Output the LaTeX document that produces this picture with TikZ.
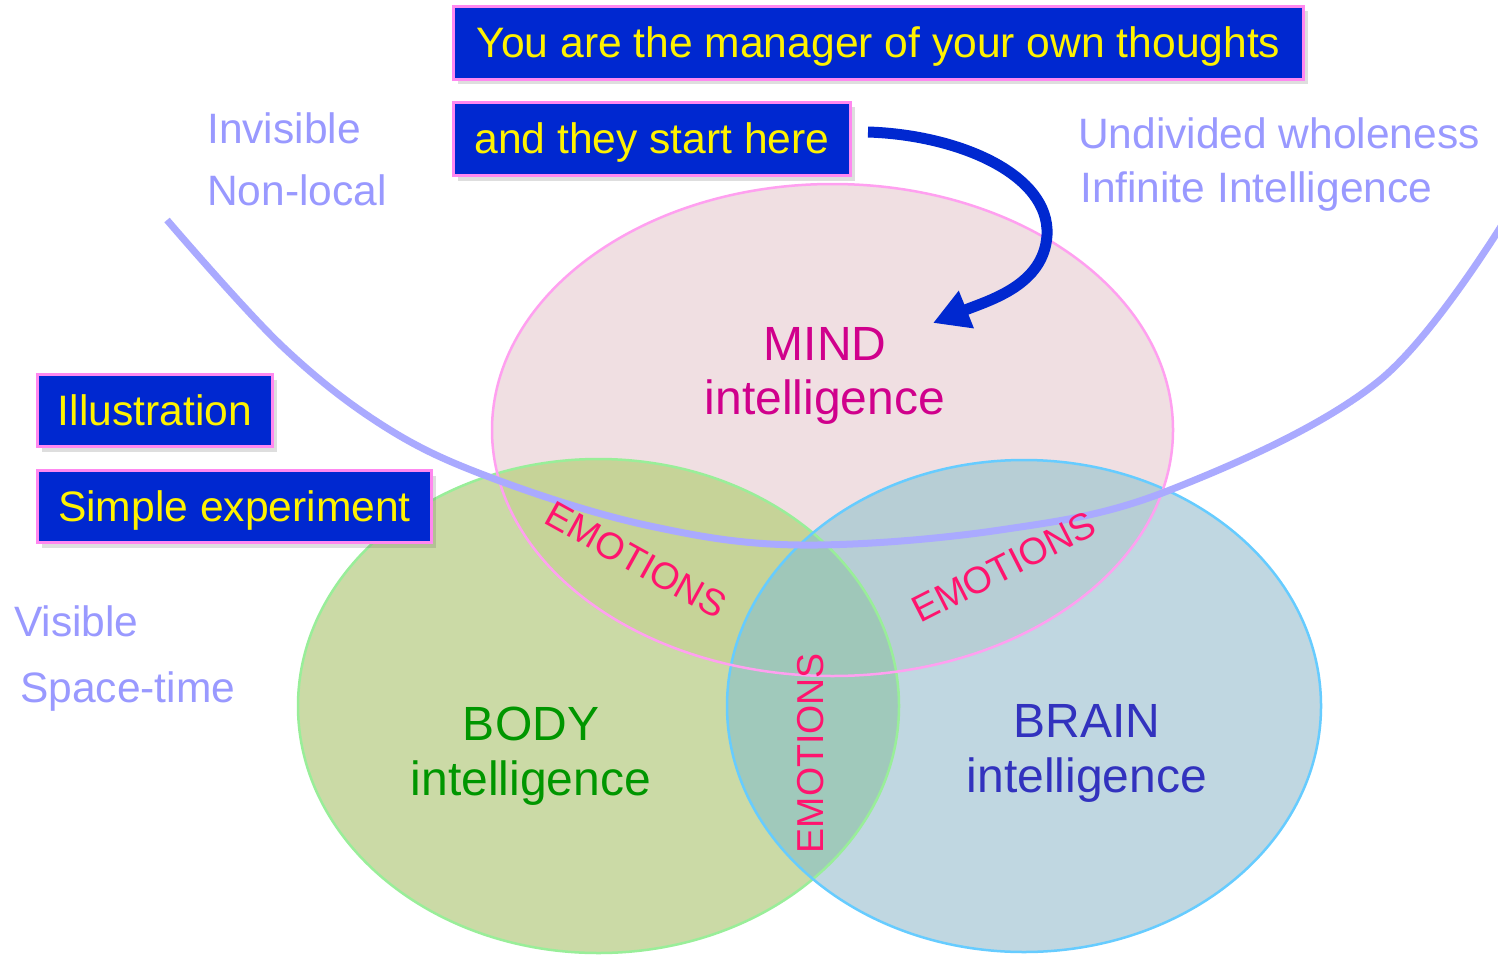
\documentclass[tikz,border=0pt]{standalone}
\usepackage{fontspec}
\setmainfont{Liberation Sans}
\usetikzlibrary{arrows.meta,shadows}
\definecolor{boxblue}{RGB}{0,40,208}
\definecolor{boxpink}{RGB}{255,136,240}
\definecolor{lav}{RGB}{153,153,255}
\definecolor{curvelav}{RGB}{170,170,255}
\definecolor{mindfill}{RGB}{240,223,226}
\definecolor{bodyfill}{RGB}{203,218,166}
\definecolor{brainfill}{RGB}{192,215,225}
\definecolor{mbfill}{RGB}{198,211,152}
\definecolor{mrfill}{RGB}{183,206,213}
\definecolor{brfill}{RGB}{160,201,187}
\definecolor{allfill}{RGB}{159,199,185}
\definecolor{mindline}{RGB}{255,160,240}
\definecolor{bodyline}{RGB}{153,238,153}
\definecolor{brainline}{RGB}{102,204,255}
\definecolor{mindtext}{RGB}{208,0,140}
\definecolor{bodytext}{RGB}{0,150,0}
\definecolor{braintext}{RGB}{50,50,190}
\definecolor{emotext}{RGB}{255,20,110}
\def\mindE{(832.5,430) ellipse [x radius=340.5pt, y radius=246pt]}
\def\bodyE{(598.5,706) ellipse [x radius=300.5pt, y radius=247pt]}
\def\brainE{(1024,706) ellipse [x radius=297pt, y radius=246pt]}
\begin{document}
\begin{tikzpicture}[x=1pt,y=-1pt,
  bluebox/.style={draw=boxpink, line width=3pt, fill=boxblue, text=yellow,
    font=\fontsize{42.6}{50}\selectfont, text height=34pt, text depth=5pt,
    inner sep=0pt, anchor=north west,
    drop shadow={shadow xshift=4pt, shadow yshift=-5pt, opacity=0.18, fill=black!70}},
  lavtext/.style={text=lav, font=\fontsize{42.5}{50}\selectfont, anchor=base west, inner sep=0pt},
  vlabel/.style={font=\fontsize{48}{56}\selectfont, anchor=base, inner sep=0pt},
  emo/.style={text=emotext, font=\fontsize{37.5}{44}\selectfont, inner sep=0pt},
  arrowline/.style={draw=boxblue, line width=11pt, -{Triangle[length=36pt,width=38pt]}},
  bigcurve/.style={draw=curvelav, line width=7pt}
]
\useasboundingbox[fill=white] (0,0) rectangle (1498,955);

% ellipse fills
\fill[bodyfill] \bodyE;
\fill[brainfill] \brainE;
\fill[mindfill] \mindE;
\begin{scope}\clip \mindE; \fill[mbfill] \bodyE; \end{scope}
\begin{scope}\clip \mindE; \fill[mrfill] \brainE; \end{scope}
\begin{scope}\clip \bodyE; \fill[brfill] \brainE; \end{scope}
\begin{scope}\clip \mindE; \clip \bodyE; \fill[allfill] \brainE; \end{scope}

% ellipse borders
\draw[bodyline, line width=2.5pt] \bodyE;
\draw[brainline, line width=2.5pt] \brainE;
\draw[mindline, line width=2.5pt] \mindE;

% big lavender curve
\draw[bigcurve] plot[smooth, tension=0.6] coordinates {(167,220) (283,347) (390,430) (500,481) (650,526) (800,545) (1000,530) (1170,490) (1380,380) (1510,212)};

% side texts
\node[lavtext] (invisible) at (207,143) {Invisible};
\node[lavtext] (nonlocal) at (207,205) {Non-local};
\node[lavtext] (undivided) at (1078,148) {Undivided wholeness};
\node[lavtext] (infinite) at (1080,202) {Infinite Intelligence};
\node[lavtext] (visible) at (14,636) {Visible};
\node[lavtext] (spacetime) at (20,702) {Space-time};

% circle labels
\node[vlabel, text=mindtext] (mindt) at (825,360) {MIND};
\node[vlabel, text=mindtext] (mindi) at (825,414) {intelligence};
\node[vlabel, text=bodytext] (bodyt) at (531,740) {BODY};
\node[vlabel, text=bodytext] (bodyi) at (531,795) {intelligence};
\node[vlabel, text=braintext] (braint) at (1087,737) {BRAIN};
\node[vlabel, text=braintext] (braini) at (1087,792) {intelligence};

% emotions
\node[emo, rotate=-29] (emo1) at (636,560) {EMOTIONS};
\node[emo, rotate=27] (emo2) at (1004,567) {EMOTIONS};
\node[emo, rotate=90] (emo3) at (811,753) {EMOTIONS};

% boxes
\node[bluebox, minimum width=850pt, minimum height=73pt] (manager) at (452,5) {You are the manager of your own thoughts};
\node[bluebox, minimum width=397pt, minimum height=73pt] (start) at (452,101) {and they start here};
\node[bluebox, minimum width=235pt, minimum height=72pt] (illus) at (36,373) {Illustration};
\node[bluebox, minimum width=394pt, minimum height=72pt] (simple) at (36,469) {Simple experiment};

% arrow
\coordinate (arrstart) at (868,132);
\coordinate (arrend) at (933,323);
\draw[arrowline] (arrstart) .. controls (960,135) and (1050,175) .. (1047,235) .. controls (1044,285) and (990,300) .. (arrend);
\end{tikzpicture}
\end{document}
